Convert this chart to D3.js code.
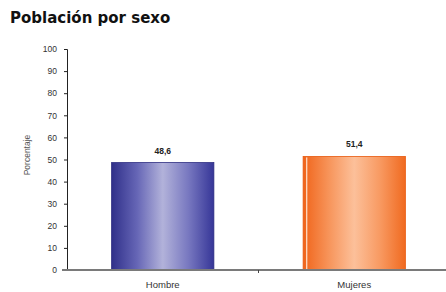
<!DOCTYPE html>
<html>
<head>
<meta charset="utf-8">
<script src="https://cdn.jsdelivr.net/npm/d3@7"></script>
<style>
  body { margin: 0; background: #fff; }
  svg { display: block; font-family: Arial, "Liberation Sans", sans-serif; }
</style>
</head>
<body>
<svg id="chart" width="446" height="292"></svg>
<script>
'use strict';

// data
const categories = ['Hombre', 'Mujeres'];
const values = [48.6, 51.4];
const valueLabels = ['48,6', '51,4'];
const yTicks = [0, 10, 20, 30, 40, 50, 60, 70, 80, 90, 100];

const svg = d3.select('#chart');

// scales
const x = d3.scaleBand()
    .domain(categories)
    .range([67, 450])
    .paddingInner(0.466)
    .paddingOuter(0.233);

const y = d3.scaleLinear()
    .domain([0, 100])
    .range([270, 49]);

// gradients for the cylinder look
const defs = svg.append('defs');
const grads = [
    { id: 'gBlue', stops: ['#30308a', '#6666b6', '#b2b2da', '#7878c0', '#363698'] },
    { id: 'gOrange', stops: ['#f0641a', '#f7945a', '#fcc09a', '#f89a62', '#f06a20'] }
];
grads.forEach(g => {
    const lg = defs.append('linearGradient').attr('id', g.id)
        .attr('x1', '0%').attr('x2', '100%').attr('y1', '0%').attr('y2', '0%');
    g.stops.forEach((c, i) => {
        lg.append('stop').attr('offset', `${i * 25}%`).attr('stop-color', c);
    });
});

// title
svg.append('text')
    .attr('x', 10)
    .attr('y', 23)
    .attr('font-size', 15)
    .attr('font-weight', 'bold')
    .attr('font-family', '"DejaVu Sans", Verdana, sans-serif')
    .attr('fill', '#111')
    .text('Población por sexo');

// y axis
const yAxis = svg.append('g')
    .attr('transform', 'translate(67,0)')
    .call(d3.axisLeft(y).tickValues(yTicks).tickSize(3).tickPadding(7));
yAxis.select('.domain').attr('stroke', '#222');
yAxis.selectAll('.tick line').attr('stroke', '#222');
yAxis.selectAll('.tick text')
    .attr('font-size', 8.5)
    .attr('fill', '#333')
    .attr('font-family', 'Arial, "Liberation Sans", sans-serif');

// y axis title
svg.append('text')
    .attr('transform', 'translate(30,155) rotate(-90)')
    .attr('text-anchor', 'middle')
    .attr('font-size', 8.5)
    .attr('fill', '#555')
    .text('Porcentaje');

// bars
const fills = ['url(#gBlue)', 'url(#gOrange)'];
const edges = ['#2c2c80', '#e85a10'];

svg.selectAll('rect.bar')
    .data(values)
    .enter()
    .append('rect')
    .attr('class', 'bar')
    .attr('x', (d, i) => x(categories[i]))
    .attr('y', d => y(d))
    .attr('width', x.bandwidth())
    .attr('height', d => y(0) - y(d))
    .attr('fill', (d, i) => fills[i])
    .attr('stroke', (d, i) => edges[i])
    .attr('stroke-width', 0.8);

// thin highlight stripe near the left edge of the orange bar
svg.append('rect')
    .attr('x', x(categories[1]) + 3)
    .attr('y', y(values[1]) + 1)
    .attr('width', 1.2)
    .attr('height', y(0) - y(values[1]) - 1)
    .attr('fill', '#fde3d0');

// value labels
svg.selectAll('text.val')
    .data(values)
    .enter()
    .append('text')
    .attr('class', 'val')
    .attr('x', (d, i) => x(categories[i]) + x.bandwidth() / 2)
    .attr('y', d => y(d) - 9)
    .attr('text-anchor', 'middle')
    .attr('font-size', 8.5)
    .attr('font-weight', 'bold')
    .attr('fill', '#222')
    .text((d, i) => valueLabels[i]);

// x axis
const xAxis = svg.append('g')
    .attr('transform', `translate(0,${y(0)})`)
    .call(d3.axisBottom(x).tickSize(0).tickPadding(11));
xAxis.select('.domain').remove();
xAxis.selectAll('.tick text')
    .attr('font-size', 9.5)
    .attr('fill', '#333')
    .attr('font-family', 'Arial, "Liberation Sans", sans-serif');

svg.append('line')
    .attr('x1', 62).attr('x2', 446)
    .attr('y1', y(0)).attr('y2', y(0))
    .attr('stroke', '#7a7a7a')
    .attr('stroke-width', 2);

// category separator tick
svg.append('line')
    .attr('x1', x(categories[0]) + x.step() - x.step() * x.paddingInner() / 2)
    .attr('x2', x(categories[0]) + x.step() - x.step() * x.paddingInner() / 2)
    .attr('y1', y(0)).attr('y2', y(0) + 3)
    .attr('stroke', '#444');
</script>
</body>
</html>
